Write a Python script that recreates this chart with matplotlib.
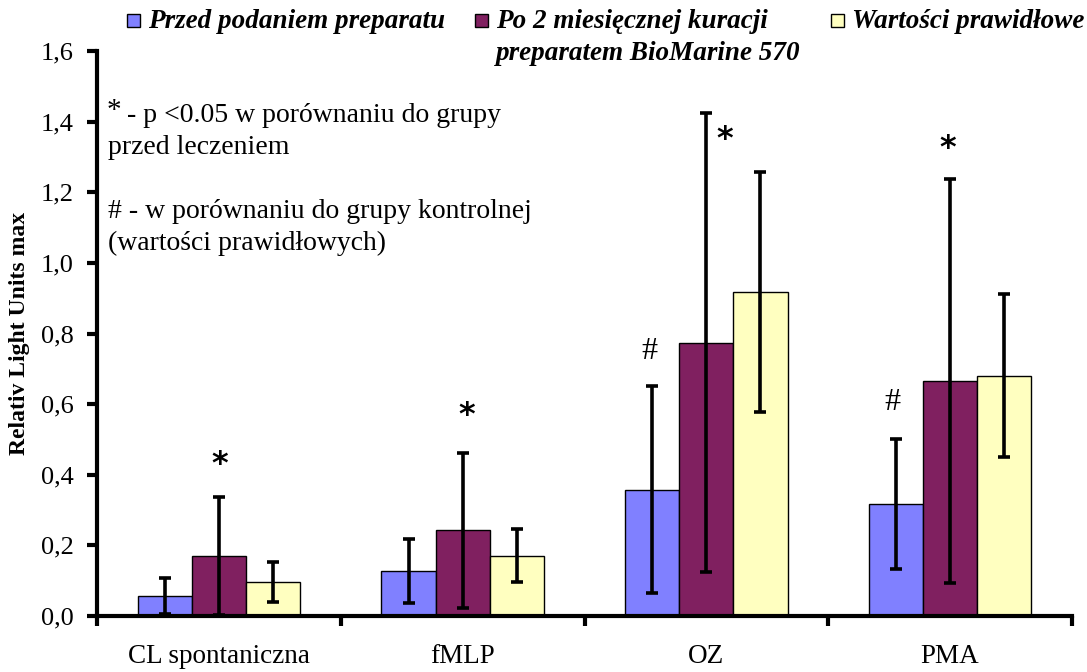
import matplotlib
matplotlib.use("Agg")
import matplotlib.pyplot as plt
import numpy as np
from matplotlib.patches import Rectangle

# ---- data ----
categories = ["CL spontaniczna", "fMLP", "OZ", "PMA"]
series_labels = ["Przed podaniem preparatu",
                 "Po 2 miesięcznej kuracji\npreparatem BioMarine 570",
                 "Wartości prawidłowe"]
before_vals = [0.057, 0.128, 0.357, 0.317]
before_err = [0.052, 0.090, 0.293, 0.183]
after_vals = [0.170, 0.243, 0.774, 0.666]
after_err = [0.168, 0.220, 0.650, 0.572]
normal_vals = [0.096, 0.171, 0.918, 0.680]
normal_err = [0.057, 0.076, 0.339, 0.231]
yticks = [0.0, 0.2, 0.4, 0.6, 0.8, 1.0, 1.2, 1.4, 1.6]
ytick_labels = ["0,0", "0,2", "0,4", "0,6", "0,8", "1,0", "1,2", "1,4", "1,6"]
# significance marks: (category index, series index, symbol, y, x offset)
marks = [(0, 1, "*", 0.428, 0.005), (1, 1, "*", 0.568, 0.015), (2, 1, "*", 1.348, 0.075),
         (3, 1, "*", 1.323, -0.01), (2, 0, "#", 0.748, -0.012), (3, 0, "#", 0.605, -0.016)]
note_lines = ["- p <0.05 w porównaniu do grupy", "przed leczeniem",
              "# - w porównaniu do grupy kontrolnej", "(wartości prawidłowych)"]

colors = ["#8080FF", "#802060", "#FFFFC0"]

plt.rcParams['font.family'] = ['Liberation Serif', 'DejaVu Serif']

W, H = 1087, 672
fig = plt.figure(figsize=(W / 100, H / 100), dpi=100)
ax = fig.add_axes([97 / W, 1 - 616 / H, 975 / W, 565 / H])

x = np.arange(len(categories))
w = 0.222
vals = [before_vals, after_vals, normal_vals]
errs = [before_err, after_err, normal_err]
for k in range(3):
    ax.bar(x + (k - 1) * w, vals[k], w, color=colors[k], edgecolor="black",
           linewidth=1.0, zorder=2)
    ax.errorbar(x + (k - 1) * w, vals[k], yerr=errs[k], fmt="none",
                ecolor="black", elinewidth=2.6, capsize=4, capthick=2.6, zorder=3)

for ci, si, sym, yv, dx in marks:
    xp = ci + (si - 1) * w + dx
    if sym == "*":
        ax.text(xp, yv, sym, ha="center", va="center", fontsize=23,
                fontweight="bold", family=["DejaVu Sans"], zorder=4)
    else:
        ax.text(xp, yv, sym, ha="center", va="center", fontsize=23, zorder=4)

ax.set_xlim(-0.5, len(categories) - 0.5)
ax.set_ylim(0, 1.6)
ax.set_yticks(yticks)
ax.set_yticklabels(ytick_labels, fontsize=19)
ax.set_xticks(np.arange(len(categories) + 1) - 0.5)
ax.set_xticklabels([])
ax.set_xticks(x, minor=True)
ax.set_xticklabels(categories, minor=True, fontsize=19.5)
ax.tick_params(axis="x", which="minor", length=0, pad=20)
ax.tick_params(axis="x", which="major", direction="out", length=7, width=3)
ax.tick_params(axis="y", direction="out", length=7, width=3, pad=10)
for s in ["top", "right"]:
    ax.spines[s].set_visible(False)
for s in ["left", "bottom"]:
    ax.spines[s].set_linewidth(3)

ax.set_ylabel("Relativ Light Units max", fontsize=17, fontweight="bold")
ax.yaxis.set_label_coords((30 - 97) / 975, 0.5)

# annotation text (pixel positions converted to figure fractions)
fig.text(107 / W, 1 - 111 / H, "*", fontsize=21, va="center", ha="left")
note_pos = [(127, 115), (108, 147), (108, 211), (108, 243)]
for (px, py), line in zip(note_pos, note_lines):
    fig.text(px / W, 1 - py / H, line, fontsize=20, va="center", ha="left")

# legend (manual)
leg_sq = [127, 475, 831]
for k in range(3):
    sx = leg_sq[k]
    fig.patches.append(Rectangle((sx / W, 1 - 27 / H), 13 / W, 13 / H,
                                 transform=fig.transFigure, facecolor=colors[k],
                                 edgecolor="black", linewidth=1.0))
    for j, part in enumerate(series_labels[k].split("\n")):
        fig.text((sx + 21) / W, 1 - (21 + 33 * j) / H, part, fontsize=19.5,
                 fontweight="bold", fontstyle="italic", va="center", ha="left")

fig.savefig("out.png", dpi=100)
